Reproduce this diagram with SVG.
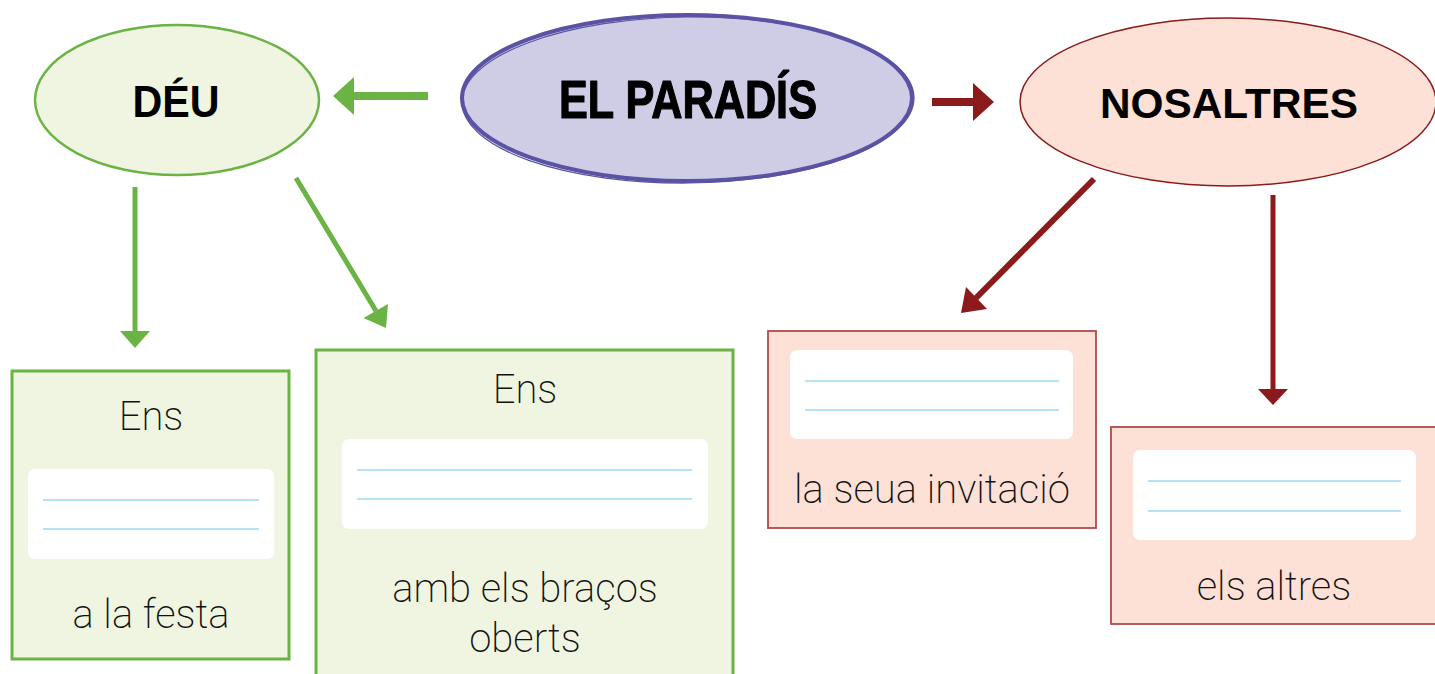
<svg xmlns="http://www.w3.org/2000/svg" width="1435" height="674" viewBox="0 0 1435 674">
<style>
.title{font-family:"Liberation Sans",Arial,sans-serif;font-weight:bold;fill:#000;text-anchor:middle}
.body{font-family:Roboto,"Liberation Sans",sans-serif;font-weight:200;fill:#111;text-anchor:middle;font-size:40px}
.gbox{fill:#f0f5e1;stroke:#6ab344;stroke-width:3}
.rbox{fill:#fde0d6;stroke:#b04a4a;stroke-width:1.8}
.white{fill:#fff}
.rule{stroke:#9fd8f2;stroke-width:1.5}
.g{stroke:#6ab344;fill:none}
.gh{fill:#6ab344}
.r{stroke:#8a1a1c;fill:none}
.rh{fill:#8a1a1c}
</style>
<rect width="1435" height="674" fill="#fff"/>
<g id="connectors">
  <line class="g" x1="428" y1="96" x2="352" y2="96" stroke-width="8"/>
  <polygon class="gh" points="333,96 354,77 354,115"/>
  <line class="g" x1="135" y1="187" x2="135" y2="332" stroke-width="5"/>
  <polygon class="gh" points="120,331 150,331 135,348"/>
  <line class="g" x1="296" y1="178" x2="376" y2="311" stroke-width="5"/>
  <polygon class="gh" points="386,328 363.5,318 388,304"/>
  <line class="r" x1="932" y1="102" x2="975" y2="102" stroke-width="8"/>
  <polygon class="rh" points="973,83 973,121 994,102"/>
  <line class="r" x1="1094" y1="179" x2="976" y2="298" stroke-width="6"/>
  <polygon class="rh" points="961,313 987,309 966,287"/>
  <line class="r" x1="1273" y1="195" x2="1273" y2="390" stroke-width="5"/>
  <polygon class="rh" points="1258,389 1288,389 1273,405"/>
</g>
<g id="node-paradis">
  <ellipse cx="687" cy="98" rx="225" ry="83" fill="#cfcde6" stroke="#5a52a3" stroke-width="4"/>
  <ellipse cx="688" cy="100" rx="226" ry="83" fill="none" stroke="#5a52a3" stroke-width="1.2" transform="rotate(-0.6 688 100)"/>
  <text class="title" x="688" y="118" font-size="54" textLength="258" lengthAdjust="spacingAndGlyphs" stroke="#000" stroke-width="1.2" stroke-linejoin="round">EL PARADÍS</text>
</g>
<g id="node-deu">
  <ellipse cx="177" cy="100" rx="142" ry="75" fill="#f0f5e1" stroke="#6ab344" stroke-width="2.5"/>
  <text class="title" x="176" y="117" font-size="45" textLength="87" lengthAdjust="spacingAndGlyphs">DÉU</text>
</g>
<g id="node-nosaltres">
  <ellipse cx="1228" cy="102" rx="208" ry="84" fill="#fde0d6" stroke="#8a1a1c" stroke-width="1.5"/>
  <text class="title" x="1229" y="118" font-size="43" textLength="258" lengthAdjust="spacingAndGlyphs">NOSALTRES</text>
</g>
<g id="box-festa">
  <rect class="gbox" x="12" y="371" width="277" height="288"/>
  <text class="body" x="151" y="430">Ens</text>
  <rect class="white" x="28" y="469" width="246" height="90" rx="7"/>
  <line class="rule" x1="43" y1="500" x2="259" y2="500"/>
  <line class="rule" x1="43" y1="529" x2="259" y2="529"/>
  <text class="body" x="151" y="628">a la festa</text>
</g>
<g id="box-bracos">
  <rect class="gbox" x="316" y="350" width="417" height="340"/>
  <text class="body" x="525" y="403">Ens</text>
  <rect class="white" x="342" y="439" width="366" height="90" rx="7"/>
  <line class="rule" x1="357" y1="470" x2="692" y2="470"/>
  <line class="rule" x1="357" y1="499" x2="692" y2="499"/>
  <text class="body" x="525" y="602">amb els braços</text>
  <text class="body" x="525" y="652">oberts</text>
</g>
<g id="box-invitacio">
  <rect class="rbox" x="768" y="331" width="328" height="197"/>
  <rect class="white" x="790" y="350" width="283" height="89" rx="7"/>
  <line class="rule" x1="805" y1="381" x2="1059" y2="381"/>
  <line class="rule" x1="805" y1="410" x2="1059" y2="410"/>
  <text class="body" x="932" y="503">la seua invitació</text>
</g>
<g id="box-altres">
  <rect class="rbox" x="1111" y="427" width="340" height="197"/>
  <rect class="white" x="1133" y="450" width="283" height="90" rx="7"/>
  <line class="rule" x1="1148" y1="481" x2="1401" y2="481"/>
  <line class="rule" x1="1148" y1="511" x2="1401" y2="511"/>
  <text class="body" x="1274" y="600">els altres</text>
</g>
</svg>
